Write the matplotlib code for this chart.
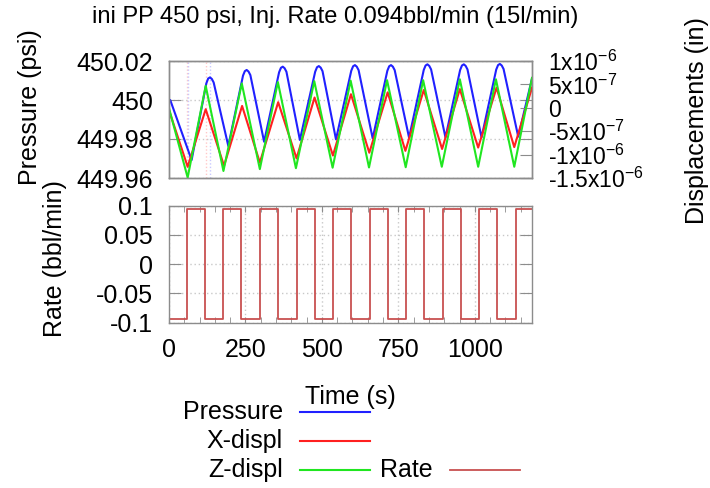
import matplotlib
matplotlib.use("Agg")
import matplotlib.pyplot as plt
from matplotlib.lines import Line2D
from matplotlib.ticker import FixedLocator, MultipleLocator

plt.rcParams["font.family"] = ["Liberation Sans", "DejaVu Sans"]
plt.rcParams["mathtext.fontset"] = "custom"
plt.rcParams["mathtext.rm"] = "Liberation Sans"
plt.rcParams["mathtext.it"] = "Liberation Sans"
plt.rcParams["mathtext.default"] = "regular"

# --- data ------------------------------------------------------------------
# pressure (psi), left axis of the top panel
pressure_t = [0, 4, 74, 122, 128, 134, 140, 146, 194, 242, 248, 254, 260, 266,
              311, 360, 366, 372, 378, 384, 428, 478, 484, 490, 496, 502,
              546, 596, 602, 608, 614, 620, 666, 714, 720, 726, 732, 738,
              785, 833, 839, 845, 851, 857, 904, 952, 958, 964, 970, 976,
              1022, 1070, 1076, 1082, 1088, 1094, 1142, 1187]
pressure_psi = [450.000, 450.000, 449.9692, 450.0085, 450.0110, 450.0116, 450.0108, 450.0090,
                449.9764, 450.0125, 450.0148, 450.0154, 450.0146, 450.0128,
                449.9786, 450.0142, 450.0165, 450.0171, 450.0163, 450.0145,
                449.9795, 450.0145, 450.0168, 450.0174, 450.0166, 450.0148,
                449.9798, 450.0150, 450.0173, 450.0179, 450.0171, 450.0153,
                449.9803, 450.0150, 450.0173, 450.0179, 450.0171, 450.0153,
                449.9807, 450.0154, 450.0177, 450.0183, 450.0175, 450.0157,
                449.9808, 450.0154, 450.0177, 450.0183, 450.0175, 450.0157,
                449.9808, 450.0156, 450.0179, 450.0185, 450.0177, 450.0159,
                449.9812, 450.0110]

# displacements (x 1e-6 in), right axis of the top panel
x_displ_t = [0, 61, 120, 180, 239, 297, 357, 417, 476, 536, 595, 655, 715,
             773, 833, 893, 951, 1011, 1071, 1129, 1187]
x_displ = [-0.05, -1.26, -0.03, -1.24, 0.04, -1.17, 0.12, -1.08, 0.22, -1.02,
           0.29, -0.96, 0.33, -0.92, 0.38, -0.88, 0.40, -0.85, 0.43, -0.84, 0.43]

z_displ_t = [0, 61, 120, 178, 238, 297, 356, 415, 475, 535, 594, 654, 713,
             774, 831, 892, 951, 1011, 1069, 1129, 1187]
z_displ = [-0.01, -1.49, 0.47, -1.35, 0.52, -1.31, 0.55, -1.29, 0.57, -1.28,
           0.58, -1.275, 0.59, -1.27, 0.59, -1.26, 0.61, -1.26, 0.61, -1.26, 0.64]

# injection rate (bbl/min), bottom panel, step changes
rate_t = [0, 58, 118, 178, 237, 297, 357, 417, 476, 536, 596, 656, 716, 775,
          835, 895, 954, 1014, 1073, 1134, 1187]
rate_bbl = [-0.094, 0.094, -0.094, 0.094, -0.094, 0.094, -0.094, 0.094, -0.094, 0.094,
            -0.094, 0.094, -0.094, 0.094, -0.094, 0.094, -0.094, 0.094, -0.094, 0.094, 0.094]

# faint dotted markers in the top panel
marks_red_t = [58, 120]
marks_blue_t = [63, 134]

p_ticks = [449.96, 449.98, 450.0, 450.02]
p_labels = ["449.96", "449.98", "450", "450.02"]
d_ticks = [1.0, 0.5, 0.0, -0.5, -1.0, -1.5]
d_labels = [r"1x10$^{-6}$", r"5x10$^{-7}$", "0", r"-5x10$^{-7}$", r"-1x10$^{-6}$", r"-1.5x10$^{-6}$"]
r_ticks = [-0.1, -0.05, 0.0, 0.05, 0.1]
r_labels = ["-0.1", "-0.05", "0", "0.05", "0.1"]
t_ticks = [0, 250, 500, 750, 1000]

FS = 18
FRAME = "#8c8c8c"
GRID = "#c8c8c8"
C_P, C_X, C_Z, C_R = "#2020ff", "#ff2020", "#20e620", "#c85050"
W, H = 710, 488


def fx(px):
    return px / W


def fy(py):
    return 1 - py / H


def style_frame(ax):
    for sp in ax.spines.values():
        sp.set_color(FRAME)
        sp.set_linewidth(1.0)


fig = plt.figure(figsize=(7.1, 4.88), dpi=100)
ax_p = fig.add_axes([fx(169), fy(178), 363 / W, 117 / H])
ax_d = ax_p.twinx()
ax_r = fig.add_axes([fx(169), fy(322.5), 363 / W, 117 / H])

# top panel
for t in marks_red_t:
    ax_p.axvline(t, color="#ffc8c8", lw=1, ls=(0, (1, 1.5)), zorder=0)
for t in marks_blue_t:
    ax_p.axvline(t, color="#c8c8ff", lw=1, ls=(0, (1, 1.5)), zorder=0)
lp, = ax_p.plot(pressure_t, pressure_psi, color=C_P, lw=1.5)
lx, = ax_d.plot(x_displ_t, x_displ, color=C_X, lw=1.5)
lz, = ax_d.plot(z_displ_t, z_displ, color=C_Z, lw=1.5)

ax_p.set_xlim(0, 1187)
ax_p.set_ylim(449.96, 450.02)
ax_d.set_ylim(-1.5, 1.0)
ax_p.yaxis.set_major_locator(FixedLocator(p_ticks))
ax_p.set_yticklabels(p_labels)
ax_d.yaxis.set_major_locator(FixedLocator(d_ticks))
ax_d.set_yticklabels(d_labels)
ax_p.grid(axis="y", color=GRID, ls=(0, (1, 2)), lw=1)
ax_p.tick_params(axis="x", bottom=False, labelbottom=False)
ax_p.tick_params(axis="y", direction="in", length=8.5, color=FRAME, right=True,
                 labelsize=FS, pad=11.5)
ax_d.tick_params(axis="y", direction="in", length=8.5, color=FRAME,
                 labelsize=16.5, pad=11.5)
style_frame(ax_p)
style_frame(ax_d)

# bottom panel
lr, = ax_r.plot(rate_t, rate_bbl, color=C_R, lw=1.3, drawstyle="steps-post")
ax_r.set_xlim(0, 1187)
ax_r.set_ylim(-0.1, 0.1)
ax_r.yaxis.set_major_locator(FixedLocator(r_ticks))
ax_r.set_yticklabels(r_labels)
ax_r.xaxis.set_major_locator(FixedLocator(t_ticks))
ax_r.set_xticklabels([str(t) for t in t_ticks])
ax_r.xaxis.set_minor_locator(MultipleLocator(50))
ax_r.grid(True, color=GRID, ls=(0, (1, 2)), lw=1)
ax_r.tick_params(axis="y", direction="in", length=8.5, color=FRAME, right=True,
                 labelsize=FS, pad=11.5)
ax_r.tick_params(axis="x", which="both", direction="in", length=4, color=FRAME,
                 top=True, labelsize=FS, pad=11.5)
style_frame(ax_r)

# texts
fig.text(fx(335), fy(17), "ini PP 450 psi, Inj. Rate 0.094bbl/min (15l/min)",
         ha="center", va="center", fontsize=17)
fig.text(fx(30), fy(107), "Pressure (psi)", rotation=90, ha="center", va="center", fontsize=FS)
fig.text(fx(55), fy(259), "Rate (bbl/min)", rotation=90, ha="center", va="center", fontsize=FS)
fig.text(fx(697), fy(121), "Displacements (in)", rotation=90, ha="center", va="center", fontsize=FS)
fig.text(fx(350), fy(397), "Time (s)", ha="center", va="center", fontsize=FS)

# key, gnuplot style: label right-justified, sample to the right
key = [(lp, "Pressure", 283, 412), (lx, "X-displ", 283, 441),
       (lz, "Z-displ", 283, 470), (lr, "Rate", 433, 470)]
for line, label, xr, yc in key:
    fig.text(fx(xr), fy(yc), label, ha="right", va="center", fontsize=FS)
    fig.add_artist(Line2D([fx(xr + 17), fx(xr + 87)], [fy(yc), fy(yc)],
                          color=line.get_color(), lw=line.get_linewidth()))

fig.savefig("out.png", dpi=100)
